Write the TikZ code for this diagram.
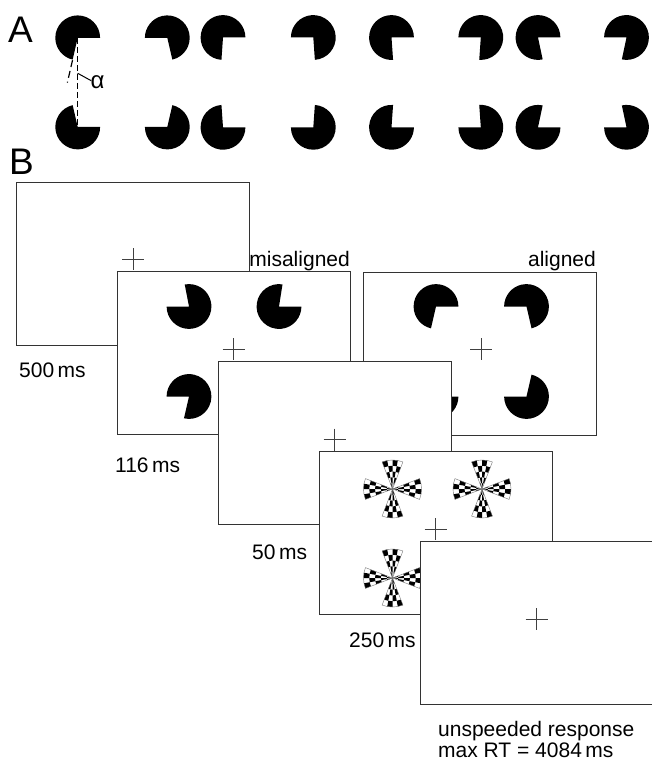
\documentclass[tikz,border=0pt]{standalone}
\usepackage{fontspec}
\setmainfont{Liberation Sans}
\tikzset{
  scr/.style={draw=black!80, line width=1.1pt, fill=white, minimum width=233pt, minimum height=163pt, inner sep=0pt, anchor=north west},
  fix/.style={draw=black!75, line width=0.7pt},
  lbl/.style={font=\fontsize{21}{25}\selectfont, inner sep=0pt},
  big/.style={font=\fontsize{37}{40}\selectfont, inner sep=0pt},
  dsh/.style={line width=1.2pt, dash pattern=on 6pt off 3pt},
}
\newcommand{\pacman}[4]{\fill[black] (#1,#2) -- ++({#3}:22.4) arc[start angle={#3}, end angle={#4}, radius=22.4] -- cycle;}
\newcommand{\kan}[5]{%
  \pacman{#1}{-#3}{0}{270-(#5)}
  \pacman{#2}{-#3}{-90+(#5)}{180}
  \pacman{#1}{-#4}{90+(#5)}{360}
  \pacman{#2}{-#4}{180}{450-(#5)}}
\newcommand{\fixc}[2]{\draw[fix] (#1-11,-#2) -- (#1+11,-#2) (#1,-#2+11) -- (#1,-#2-11);}
\newcommand{\wheel}[2]{%
  \begin{scope}[shift={(#1,-#2)}]
  \foreach \w in {0,90,180,270}{
    \foreach \i in {0,...,3}{
      \foreach \j in {0,...,4}{
        \pgfmathtruncatemacro{\chk}{mod(\i+\j,2)}
        \ifnum\chk=1
          \pgfmathsetmacro{\wa}{\w-21+10.5*\i}
          \pgfmathsetmacro{\wb}{\wa+10.5}
          \pgfmathsetmacro{\wra}{max(0.3,5.8*\j)}
          \pgfmathsetmacro{\wrb}{5.8*(\j+1)}
          \fill[black] ({\wa}:\wra) arc[start angle=\wa, end angle=\wb, radius=\wra] -- ({\wb}:\wrb) arc[start angle=\wb, end angle=\wa, radius=\wrb] -- cycle;
        \fi
      }}
    \draw[black!55, line width=0.4pt] (0,0) -- ({\w-21}:29) arc[start angle={\w-21}, end angle={\w+21}, radius=29] -- cycle;
  }
  \end{scope}}
\begin{document}
\begin{tikzpicture}[x=1pt,y=1pt]
\useasboundingbox (0,0) rectangle (651,-762);
% ---------- Panel A ----------
\node[big, anchor=base west] (labA) at (8,-43) {A};
\kan{77.7}{167.3}{37.8}{127}{13}
\kan{223}{313.3}{37.5}{127.3}{4}
\kan{391.5}{480.8}{37.5}{127.3}{-4}
\kan{538}{626.5}{37.5}{127.3}{-12}
\coordinate (pa) at (77.7,-37.8);
\coordinate (pb) at (77.7,-127);
\draw[dsh] (pa) -- (pb);
\draw[dsh, dash pattern=on 7pt off 4pt] (pa) ++(257:23) -- ++(257:23);
\node[inner sep=0pt, font=\fontsize{24}{26}\selectfont, anchor=base west] (alpha) at (90.5,-88.5) {α};
\coordinate (al0) at (77.7,-73.3);
\coordinate (al1) at (91.2,-80.7);
\draw[line width=1pt] (al0) -- (al1);
% ---------- Panel B ----------
\node[big, anchor=base west] (labB) at (9,-175) {B};
\node[scr] (f1) at (16,-181.5) {};
\fixc{133}{259}
\node[lbl, anchor=base east] (lmis) at (350,-266) {misaligned};
\node[lbl, anchor=base east] (lal) at (596,-266) {aligned};
\node[scr] (f2) at (117,-271.3) {};
\pacman{189}{-306.5}{180}{461}
\pacman{279}{-306.5}{81}{360}
\pacman{189}{-396.5}{257}{540}
\pacman{279}{-396.5}{0}{283}
\fixc{233.5}{349.3}
\node[scr] (f3) at (363.3,-271.7) {};
\pacman{436}{-306.5}{0}{257}
\pacman{526.5}{-306.5}{-77}{180}
\pacman{436}{-396.5}{103}{360}
\pacman{526.5}{-396.5}{180}{437}
\fixc{481}{349.3}
\node[scr] (f4) at (218,-361.1) {};
\fixc{334.5}{439.5}
\node[scr] (f5) at (319,-450.9) {};
\wheel{392.5}{489}
\wheel{482}{489}
\wheel{392.5}{578}
\wheel{482}{578}
\fixc{435.5}{529}
\node[scr] (f6) at (420,-540.7) {};
\fixc{536.7}{619.3}
\node[lbl, anchor=base west] (t1) at (19,-377.5) {500\,ms};
\node[lbl, anchor=base west] (t2) at (115,-472.5) {116\,ms};
\node[lbl, anchor=base west] (t3) at (252,-559) {50\,ms};
\node[lbl, anchor=base west] (t4) at (349,-647) {250\,ms};
\node[lbl, anchor=base west] (t5) at (438,-736) {unspeeded response};
\node[lbl, anchor=base west] (t6) at (438,-757.5) {max RT = 4084\,ms};
\end{tikzpicture}
\end{document}
